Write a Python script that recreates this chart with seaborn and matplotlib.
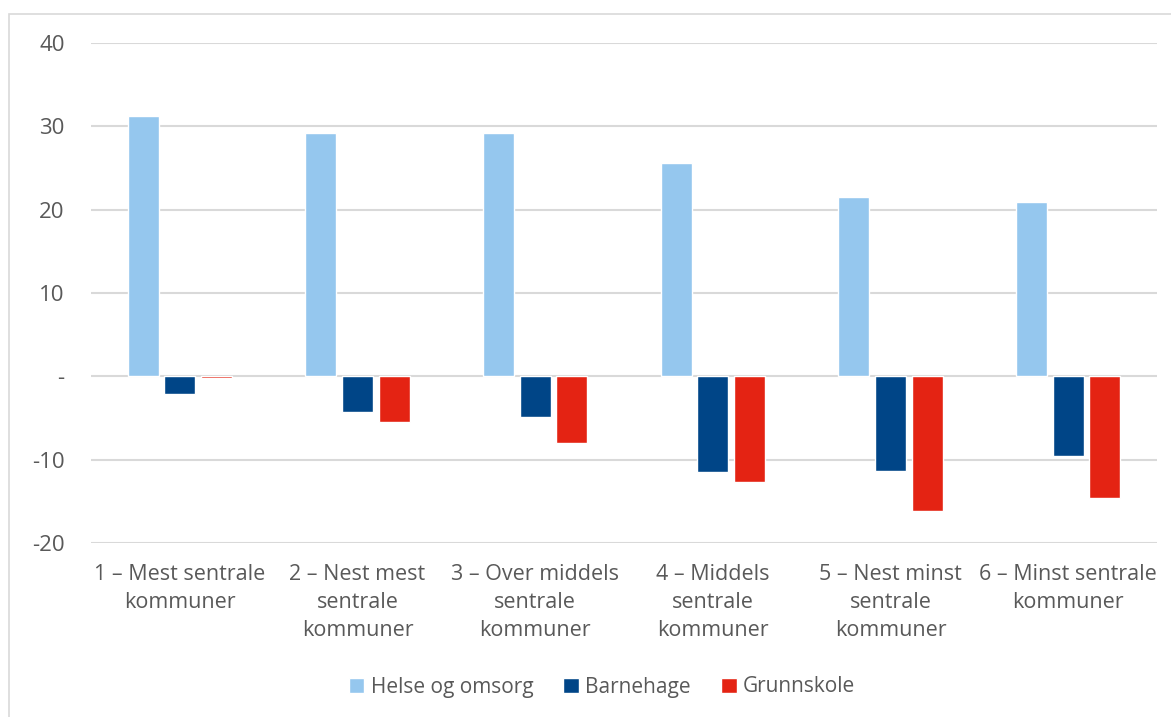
import matplotlib
matplotlib.use("Agg")
import matplotlib.pyplot as plt
import numpy as np
import pandas as pd
import seaborn as sns
from matplotlib.patches import Rectangle

categories = [
    "1 – Mest sentrale\nkommuner",
    "2 – Nest mest\nsentrale\nkommuner",
    "3 – Over middels\nsentrale\nkommuner",
    "4 – Middels\nsentrale\nkommuner",
    "5 – Nest minst\nsentrale\nkommuner",
    "6 – Minst sentrale\nkommuner",
]
helse = [31.3, 29.2, 29.2, 25.6, 21.5, 20.9]
barnehage = [-2.1, -4.3, -4.9, -11.5, -11.3, -9.6]
grunnskole = [-0.2, -5.5, -8.0, -12.7, -16.1, -14.6]
series_names = ["Helse og omsorg", "Barnehage", "Grunnskole"]
yticks = [-20, -10, 0, 10, 20, 30, 40]
ytick_labels = ["-20", "-10", "-", "10", "20", "30", "40"]

colors = ["#95C7EE", "#004587", "#E42313"]
text_color = "#595959"
grid_color = "#D9D9D9"

df = pd.DataFrame({
    "kategori": categories * 3,
    "verdi": helse + barnehage + grunnskole,
    "serie": np.repeat(series_names, len(categories)),
})

sns.set_theme(style="white")
plt.rcParams["font.family"] = ["Open Sans", "DejaVu Sans"]

fig = plt.figure(figsize=(11.71, 7.17), dpi=100)
ax = fig.add_axes([91 / 1171, 1 - 543 / 717, (1157 - 91) / 1171, (543 - 43) / 717])

sns.barplot(
    data=df, x="kategori", y="verdi", hue="serie", hue_order=series_names,
    palette=colors, width=0.62, gap=0.16, saturation=1, ax=ax,
)

ax.set_ylim(-20, 40)
ax.set_yticks(yticks)
ax.set_yticklabels(ytick_labels)
ax.grid(axis="y", color=grid_color, linewidth=1.5)
ax.set_axisbelow(True)
for s in ax.spines.values():
    s.set_visible(False)
ax.set_xlabel("")
ax.set_ylabel("")
ax.tick_params(axis="y", length=0, pad=19, labelsize=16, labelcolor=text_color)
ax.tick_params(axis="x", length=0, pad=15, labelsize=15.5, labelcolor=text_color)
for lbl in ax.get_yticklabels():
    lbl.set_horizontalalignment("right")
for lbl in ax.get_xticklabels():
    lbl.set_linespacing(1.45)

leg = ax.legend(
    loc="center", bbox_to_anchor=(602 / 1171, 1 - 687 / 717), bbox_transform=fig.transFigure,
    ncol=3, frameon=False, fontsize=15, handlelength=0.75, handleheight=0.75,
    handletextpad=0.3, columnspacing=1.45,
)
for t in leg.get_texts():
    t.set_color(text_color)

fig.patches.append(Rectangle((9 / 1171, -0.05), 1.1, 1 - 14 / 717 + 0.05,
                             transform=fig.transFigure, fill=False,
                             edgecolor=grid_color, linewidth=1.2))

fig.savefig("out.png", dpi=100)
